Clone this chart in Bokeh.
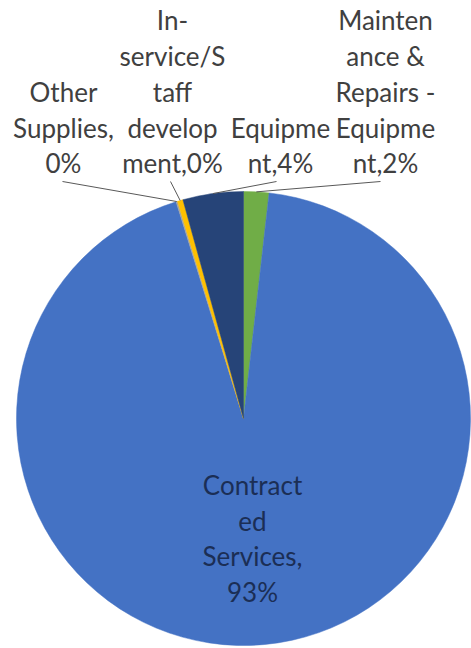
import math
from bokeh.plotting import figure
from bokeh.models import Range1d, ColumnDataSource
from bokeh.core.properties import value
from bokeh.embed import file_html
from bokeh.resources import INLINE

# Data (clockwise from 12 o'clock)
categories = ["Maintenance & Repairs - Equipment", "Contracted Services",
              "Other Supplies", "In-service/Staff development", "Equipment"]
shares = [1.8, 93.4, 0.1, 0.4, 4.3]
label_texts = ["Mainten\nance &\nRepairs -\nEquipme\nnt,2%",
               "Contract\ned\nServices,\n93%",
               "Other\nSupplies,\n0%",
               "In-\nservice/S\ntaff\ndevelop\nment,0%",
               "Equipme\nnt,4%"]
colors = ["#70AD47", "#4472C4", "#A5A5A5", "#FFC000", "#264478"]

W, H = 471, 648
CX, CY = 243, 418   # pixel coords of pie centre
R = 227

def py(y):
    return H - y

total = sum(shares)
starts, ends, mids = [], [], []
c = 0.0
for s in shares:
    a0 = math.pi / 2 - 2 * math.pi * c / total
    c += s
    a1 = math.pi / 2 - 2 * math.pi * c / total
    starts.append(a1)
    ends.append(a0)
    mids.append((a0 + a1) / 2)

p = figure(width=W, height=H, output_backend="svg", toolbar_location=None,
           x_range=Range1d(0, W), y_range=Range1d(0, H), min_border=0)
p.axis.visible = False
p.grid.visible = False
p.outline_line_color = None
p.background_fill_color = "white"
p.border_fill_color = "white"

src = ColumnDataSource(dict(start=starts, end=ends, color=colors))
p.wedge(x=CX, y=py(CY), radius=R, start_angle="start", end_angle="end",
        fill_color="color", line_color="color", line_width=0.5, source=src)

# outside labels: layout anchors (pixel x of label centre)
outside_idx = [2, 3, 4, 0]
label_cx = [63, 172, 280, 385]
leader_x0 = [62, 170, 276, 380]
LABEL_BOTTOM = 179
LEADER_Y0 = 181
FS = "26px"
LH = 1.12

for i, lx, l0 in zip(outside_idx, label_cx, leader_x0):
    ex = CX + R * math.cos(mids[i])
    ey = CY - R * math.sin(mids[i])
    p.line([l0, ex], [py(LEADER_Y0), py(ey)], line_color="#595959", line_width=1)
    p.text(x=[lx], y=[py(LABEL_BOTTOM)], text=[label_texts[i]],
           text_align="center", text_baseline="bottom",
           text_font=value("Lato"), text_font_size=FS,
           text_line_height=LH, text_color="#404040")

# inside label for Contracted Services
p.text(x=[252], y=[py(538)], text=[label_texts[1]],
       text_align="center", text_baseline="middle",
       text_font=value("Lato"), text_font_size=FS,
       text_line_height=LH, text_color="#1B2E55")

open("out.html", "w").write(file_html(p, INLINE))
